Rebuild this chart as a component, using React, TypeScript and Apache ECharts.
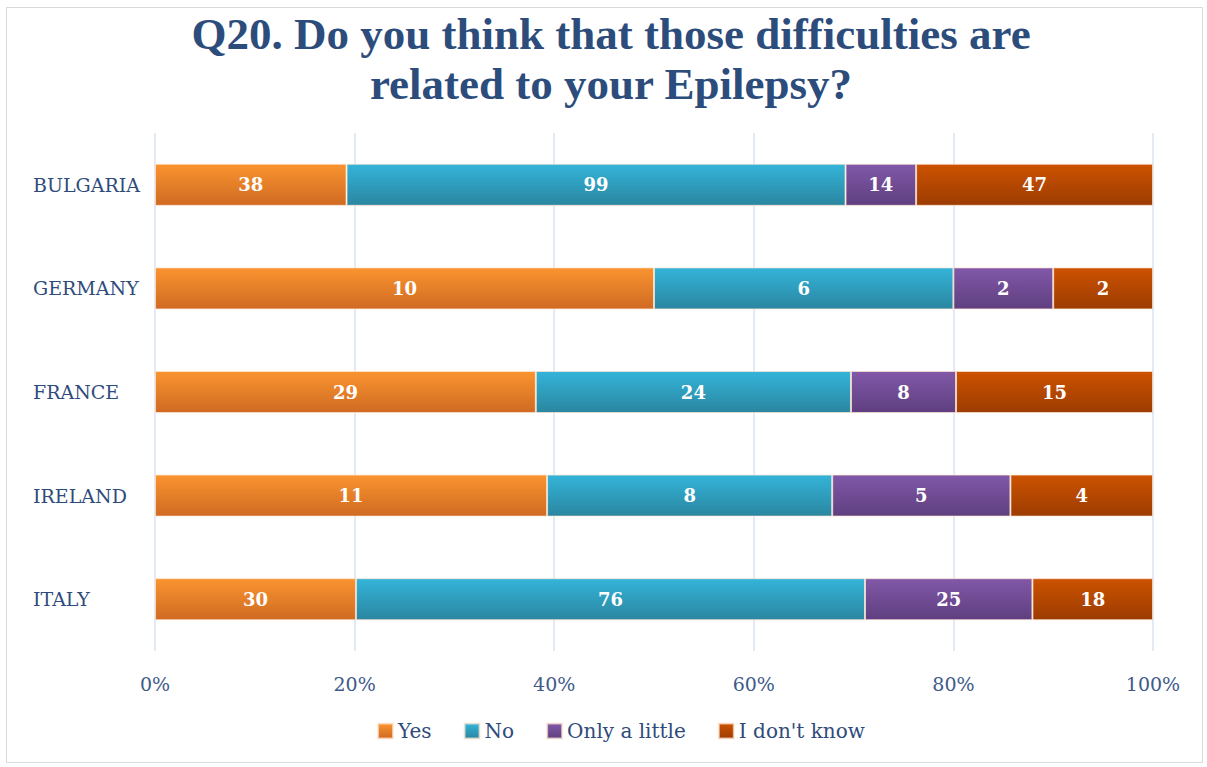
import React, { useEffect, useRef } from "react";
import * as echarts from "echarts";

const categories = ["BULGARIA", "GERMANY", "FRANCE", "IRELAND", "ITALY"];
const seriesNames = ["Yes", "No", "Only a little", "I don't know"];
const yesValues = [38, 10, 29, 11, 30];
const noValues = [99, 6, 24, 8, 76];
const littleValues = [14, 2, 8, 5, 25];
const dontKnowValues = [47, 2, 15, 4, 18];
const tickLabels = ["0%", "20%", "40%", "60%", "80%", "100%"];

const gradients: [string, string][] = [
  ["#FA9430", "#CF6A22"],
  ["#34B4D9", "#2A86A0"],
  ["#8158A8", "#5F3F80"],
  ["#CC5200", "#9C3C02"],
];

export default function App() {
  const ref = useRef<HTMLDivElement>(null);
  useEffect(() => {
    if (!ref.current) return;
    const chart = echarts.init(ref.current, null, { renderer: "svg" });
    const all = [yesValues, noValues, littleValues, dontKnowValues];
    const totals = categories.map((_, i) => all.reduce((s, arr) => s + arr[i], 0));
    const textColor = "#2F4B7C";
    const titleFont = "'Liberation Serif', serif";
    const font = "'DejaVu Serif', serif";
    chart.setOption({
      animation: false,
      backgroundColor: "#fff",
      title: {
        text: "Q20. Do you think that those difficulties are\nrelated to your Epilepsy?",
        left: 606,
        textAlign: "center",
        top: 4,
        textStyle: {
          fontFamily: titleFont,
          fontWeight: "bold",
          fontSize: 45,
          lineHeight: 50,
          color: "#2C4C7C",
        },
      },
      graphic: [
        {
          type: "rect",
          shape: { x: 6.5, y: 7.5, width: 1196, height: 755 },
          style: { fill: "none", stroke: "#D9D9D9", lineWidth: 1 },
          silent: true,
        },
      ],
      legend: {
        bottom: 21,
        left: 372,
        itemWidth: 15,
        itemHeight: 15,
        itemGap: 32,
        itemTextGap: 6,
        icon: "rect",
        textStyle: { fontFamily: font, fontSize: 20, color: textColor },
        data: seriesNames,
      },
      grid: { left: 155, right: 54, top: 133, bottom: 116 },
      xAxis: {
        type: "value",
        min: 0,
        max: 100,
        interval: 20,
        axisLine: { show: false },
        axisTick: { show: false },
        splitLine: { lineStyle: { color: "#DAE3F3", width: 1.5 } },
        axisLabel: {
          margin: 23,
          fontFamily: font,
          fontSize: 19,
          color: "#3E5A8A",
          formatter: (v: number) => tickLabels[Math.round(v / 20)],
        },
      },
      yAxis: {
        type: "category",
        inverse: true,
        data: categories,
        axisLine: { show: false },
        axisTick: { show: false },
        axisLabel: {
          align: "left",
          margin: 122,
          fontFamily: font,
          fontSize: 19,
          color: textColor,
        },
      },
      series: all.map((arr, si) => ({
        name: seriesNames[si],
        type: "bar",
        stack: "total",
        barWidth: 42,
        itemStyle: {
          color: new echarts.graphic.LinearGradient(0, 0, 0, 1, [
            { offset: 0, color: gradients[si][0] },
            { offset: 1, color: gradients[si][1] },
          ]),
          borderColor: "rgba(255,230,210,0.7)",
          borderWidth: 1,
        },
        label: {
          show: true,
          position: "inside",
          color: "#fff",
          fontFamily: font,
          fontWeight: "bold",
          fontSize: 18,
          formatter: (p: any) => String(arr[p.dataIndex]),
        },
        data: arr.map((v, i) => (v / totals[i]) * 100),
      })),
    });
    return () => chart.dispose();
  }, []);
  return (
    <div
      ref={ref}
      style={{ position: "absolute", left: 0, top: 0, width: 1207, height: 767 }}
    />
  );
}
